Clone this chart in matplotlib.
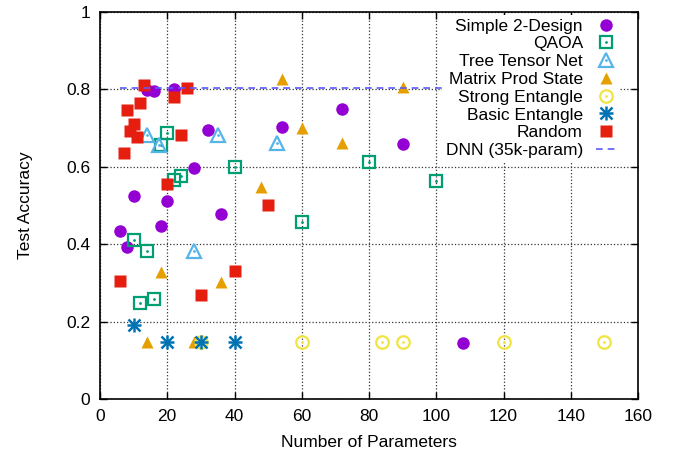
import matplotlib
matplotlib.use("Agg")
import matplotlib.pyplot as plt

plt.rcParams['font.family'] = ['Liberation Sans', 'DejaVu Sans']

# values
simple_x = [6, 8, 10, 14, 16, 18, 20, 22, 28, 32, 36, 54, 72, 90, 108]
simple_y = [0.434, 0.394, 0.524, 0.798, 0.797, 0.447, 0.511, 0.801, 0.598, 0.695, 0.478, 0.704, 0.749, 0.658, 0.144]

qaoa_x = [10, 12, 14, 16, 18, 20, 22, 24, 40, 60, 80, 100]
qaoa_y = [0.411, 0.247, 0.383, 0.258, 0.657, 0.688, 0.566, 0.577, 0.600, 0.458, 0.612, 0.563]

ttn_x = [14, 17.5, 28, 35, 52.5]
ttn_y = [0.682, 0.656, 0.383, 0.682, 0.662]

mps_x = [14, 18, 28, 36, 48, 54, 60, 72, 90]
mps_y = [0.148, 0.327, 0.148, 0.302, 0.549, 0.827, 0.700, 0.662, 0.805]

strong_x = [30, 60, 84, 90, 120, 150]
strong_y = [0.146, 0.146, 0.146, 0.146, 0.146, 0.146]

basic_x = [10, 20, 30, 40]
basic_y = [0.190, 0.146, 0.146, 0.146]

random_x = [6, 7, 8, 9, 10, 11, 12, 13, 20, 22, 24, 26, 30, 40, 50]
random_y = [0.306, 0.636, 0.747, 0.693, 0.711, 0.678, 0.766, 0.812, 0.556, 0.781, 0.683, 0.804, 0.270, 0.331, 0.502]

dnn_x = [6, 102]
dnn_y = [0.803, 0.803]

x_ticks = [0, 20, 40, 60, 80, 100, 120, 140, 160]
y_ticks = [0, 0.2, 0.4, 0.6, 0.8, 1]
y_labels = ["0", "0.2", "0.4", "0.6", "0.8", "1"]

fig = plt.figure(figsize=(6.77, 4.62), dpi=100)
ax = fig.add_axes([100 / 677, 1 - 399 / 462, 538 / 677, 387 / 462])

ms = 9
handles = []

h = ax.plot(simple_x, simple_y, 'o', color='#9400d3', ms=ms, mec='none')[0]
handles.append((h,))

h1 = ax.plot(qaoa_x, qaoa_y, 's', mfc='none', mec='#009e73', mew=1.6, ms=ms)[0]
h2 = ax.plot(qaoa_x, qaoa_y, '.', color='#009e73', ms=2)[0]
handles.append((h1, h2))

h1 = ax.plot(ttn_x, ttn_y, '^', mfc='none', mec='#56b4e9', mew=1.6, ms=ms + 1)[0]
h2 = ax.plot(ttn_x, ttn_y, '.', color='#56b4e9', ms=2)[0]
handles.append((h1, h2))

h = ax.plot(mps_x, mps_y, '^', color='#e69f00', ms=ms, mec='none')[0]
handles.append((h,))

h1 = ax.plot(strong_x, strong_y, 'o', mfc='none', mec='#f0e442', mew=1.6, ms=ms)[0]
h2 = ax.plot(strong_x, strong_y, '.', color='#f0e442', ms=2)[0]
handles.append((h1, h2))

h1 = ax.plot(basic_x, basic_y, '+', color='#0072b2', mew=1.8, ms=ms + 1)[0]
h2 = ax.plot(basic_x, basic_y, 'x', color='#0072b2', mew=1.8, ms=ms - 1)[0]
handles.append((h1, h2))

h = ax.plot(random_x, random_y, 's', color='#e51e10', ms=ms, mec='none')[0]
handles.append((h,))

h = ax.plot(dnn_x, dnn_y, '--', color='#5a5aff', lw=1.2, dashes=(4, 3))[0]
handles.append((h,))

labels = ["Simple 2-Design", "QAOA", "Tree Tensor Net", "Matrix Prod State",
          "Strong Entangle", "Basic Entangle", "Random", "DNN (35k-param)"]

leg = ax.legend(handles, labels, loc='upper right', markerfirst=False,
                bbox_to_anchor=(1 - 19 / 538, 0.992),
                fontsize=12.5, labelspacing=0.15, handlelength=1.1,
                handletextpad=0.78, borderpad=0.2, borderaxespad=0,
                frameon=True, fancybox=False, framealpha=1,
                facecolor='white', edgecolor='none')
for t in leg.get_texts():
    t.set_ha('right')
leg._legend_box.align = 'right'

ax.set_xlim(0, 160)
ax.set_ylim(0, 1)
ax.set_xticks(x_ticks)
ax.set_yticks(y_ticks)
ax.set_yticklabels(y_labels)
ax.tick_params(direction='in', length=5, width=1, top=True, right=True,
               labelsize=12.5, pad=7)
ax.grid(True, linestyle=':', color='#333333', linewidth=0.9)
ax.set_axisbelow(True)
for s in ax.spines.values():
    s.set_linewidth(1.2)

ax.set_xlabel("Number of Parameters", fontsize=12.5, labelpad=8)
ax.set_ylabel("Test Accuracy", fontsize=12.5, labelpad=24)

fig.savefig("out.png", dpi=100)
